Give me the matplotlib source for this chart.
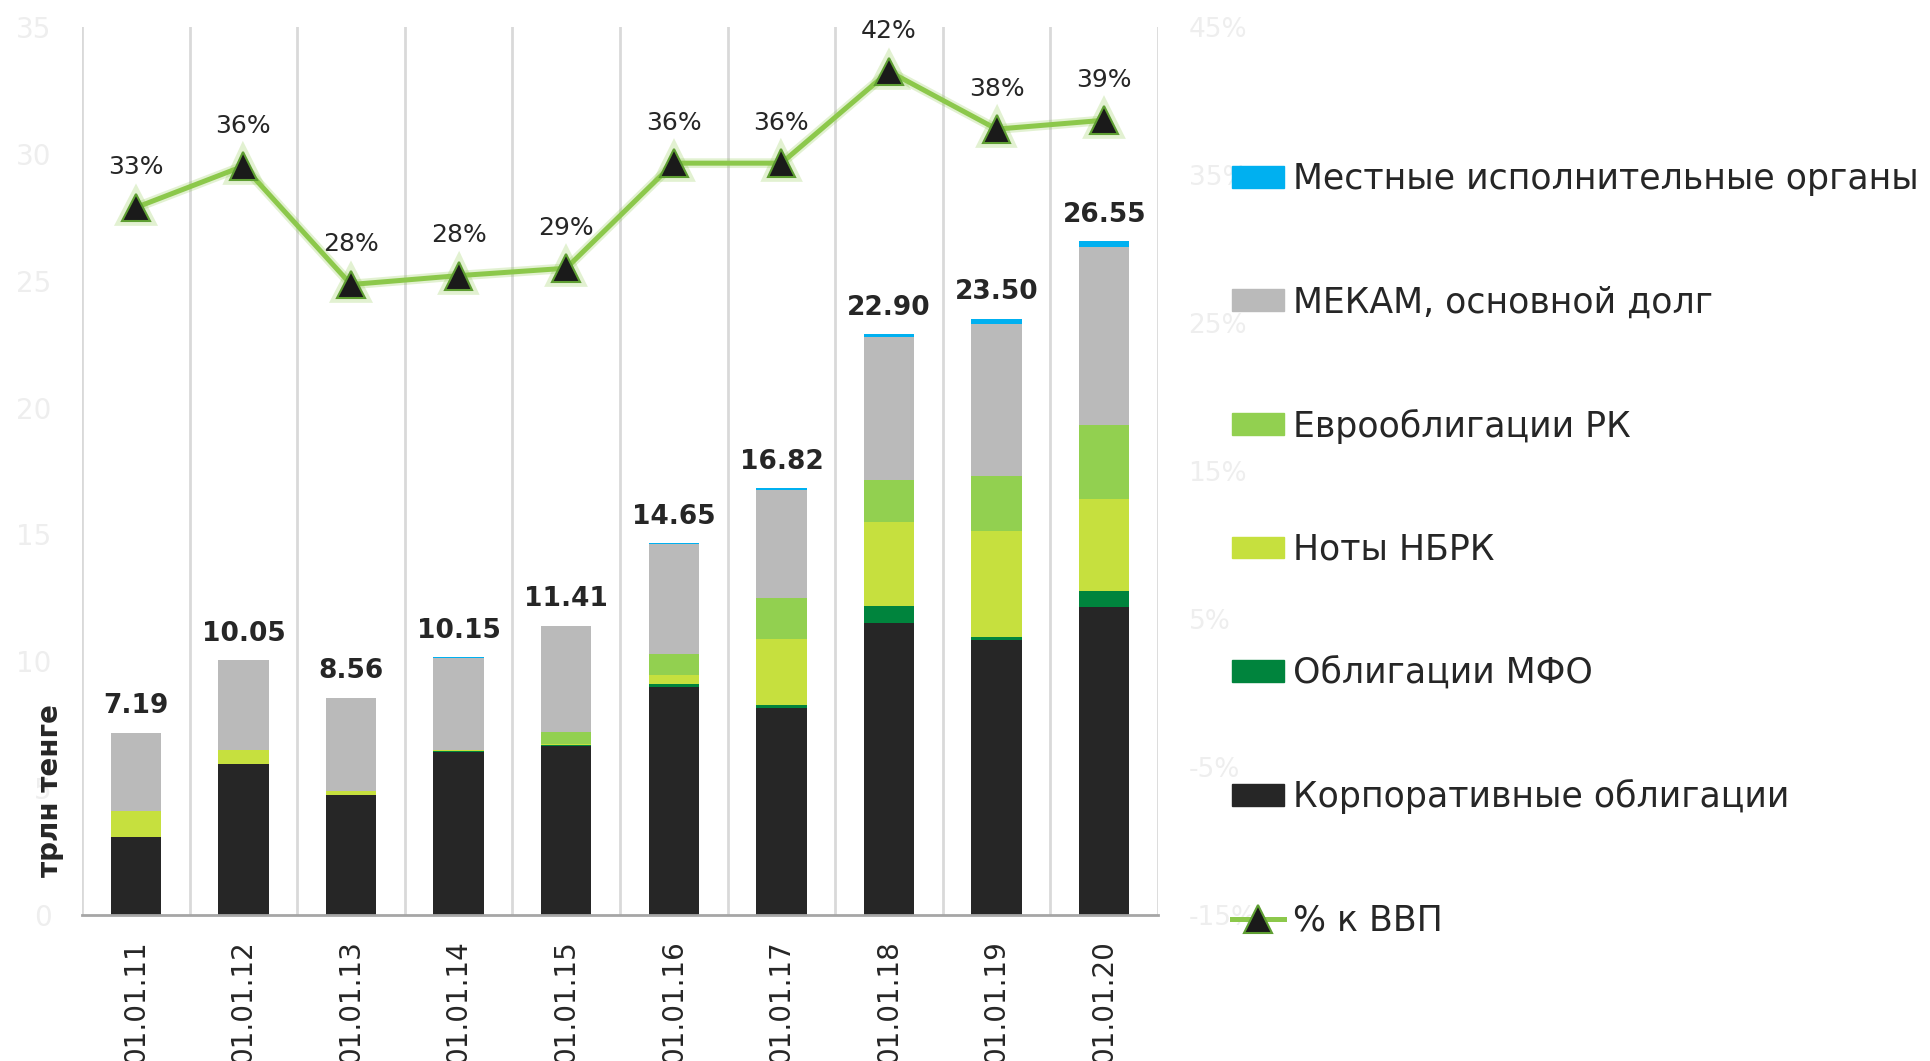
import numpy as np
import matplotlib
matplotlib.use("Agg")
import matplotlib.pyplot as plt
import matplotlib.patheffects as pe
from matplotlib.lines import Line2D
from matplotlib.patches import Patch

plt.rcParams['font.family'] = ['DejaVu Sans']

dates = ["01.01.11", "01.01.12", "01.01.13", "01.01.14", "01.01.15",
         "01.01.16", "01.01.17", "01.01.18", "01.01.19", "01.01.20"]

# trillion tenge, stacked bottom -> top
corp  = [3.09, 5.95, 4.74, 6.41, 6.65, 9.00, 8.16, 11.51, 10.82, 12.12]
mfo   = [0.00, 0.00, 0.00, 0.05, 0.06, 0.10, 0.10, 0.65, 0.15, 0.65]
notes = [1.01, 0.55, 0.15, 0.04, 0.03, 0.35, 2.61, 3.33, 4.18, 3.63]
euro  = [0.00, 0.00, 0.00, 0.00, 0.46, 0.84, 1.64, 1.66, 2.14, 2.92]
mekam = [3.08, 3.54, 3.66, 3.64, 4.20, 4.34, 4.26, 5.63, 6.02, 7.01]
local = [0.01, 0.01, 0.01, 0.01, 0.01, 0.02, 0.05, 0.12, 0.19, 0.22]
totals = [7.19, 10.05, 8.56, 10.15, 11.41, 14.65, 16.82, 22.90, 23.50, 26.55]

# % of GDP
gdp = [32.8, 35.6, 27.6, 28.2, 28.7, 35.8, 35.8, 42.0, 38.1, 38.7]

series = [
    ("Корпоративные облигации", corp, "#262626"),
    ("Облигации МФО", mfo, "#00843d"),
    ("Ноты НБРК", notes, "#c6e03e"),
    ("Еврооблигации РК", euro, "#92d050"),
    ("МЕКАМ, основной долг", mekam, "#bababa"),
    ("Местные исполнительные органы", local, "#00b0f0"),
]

fig = plt.figure(figsize=(19.31, 10.61), dpi=100)
ax = fig.add_axes([82/1931, 1 - 915/1061, (1158-82)/1931, (915-27)/1061])

x = np.arange(len(dates))
bottom = np.zeros(len(dates))
for name, vals, col in series:
    ax.bar(x, vals, 0.47, bottom=bottom, color=col, label=name, zorder=3)
    bottom += np.array(vals)

for xi, t, top in zip(x, totals, bottom):
    ax.annotate(f"{t:.2f}", (xi, top), xytext=(0, 14), textcoords="offset points",
                ha="center", va="baseline", fontsize=19, fontweight="bold",
                color="#262626", zorder=5)

ax.set_xlim(-0.5, len(dates) - 0.5)
ax.set_ylim(0, 35)
ax.set_yticks(np.arange(0, 36, 5))
ax.set_xticks(x)
ax.set_xticklabels(dates, rotation=90, fontsize=20, color="#262626")
ax.tick_params(axis="x", length=0, pad=18)
ax.tick_params(axis="y", length=0, pad=22, labelsize=20, labelcolor="#eeeeee")

# vertical separators between categories
for b in np.arange(-0.5, len(dates), 1.0):
    ax.axvline(b, color="#d9d9d9", lw=2, zorder=1)
for s in ["top", "left", "right"]:
    ax.spines[s].set_visible(False)
ax.spines["bottom"].set_color("#a6a6a6")
ax.spines["bottom"].set_linewidth(2)
ax.spines["bottom"].set_zorder(4)

ax2 = ax.twinx()
ax2.set_ylim(-15, 45)
ax2.set_yticks(np.arange(-15, 46, 10))
ax2.set_yticklabels([f"{v}%" for v in range(-15, 46, 10)])
ax2.tick_params(axis="y", length=0, pad=22, labelsize=19, labelcolor="#eeeeee")
for s in ax2.spines.values():
    s.set_visible(False)

line_col = "#8cc84b"
glow = [pe.Stroke(linewidth=7, foreground=line_col, alpha=0.25), pe.Normal()]
ax2.plot(x, gdp, color=line_col, lw=3.6, marker="^", ms=20,
         mfc="#1a1a1a", mec="#5e9e32", mew=1.5, zorder=6, path_effects=glow)
for xi, v in zip(x, gdp):
    ax2.annotate(f"{v:.0f}%", (xi, v), xytext=(0, 24), textcoords="offset points",
                 ha="center", va="baseline", fontsize=18, color="#262626")

fig.text(50/1931, 1 - 791/1061, "трлн тенге", rotation=90, ha="center", va="center",
         fontsize=20, fontweight="bold", color="#262626")

handles = [Patch(color=col) for _, _, col in reversed(series)]
labels = [name for name, _, _ in reversed(series)]
handles.append(Line2D([], [], color=line_col, lw=3.6, marker="^", ms=20,
                      mfc="#1a1a1a", mec="#5e9e32", mew=1.5))
labels.append("% к ВВП")
fig.legend(handles, labels, loc="upper left", bbox_to_anchor=(1232/1931, 1 - 162/1061),
           frameon=False, fontsize=25, handlelength=1.5, handleheight=0.58,
           handletextpad=0.25, labelspacing=2.57, borderpad=0, borderaxespad=0,
           labelcolor="#262626")

fig.savefig("out.png", dpi=100)
